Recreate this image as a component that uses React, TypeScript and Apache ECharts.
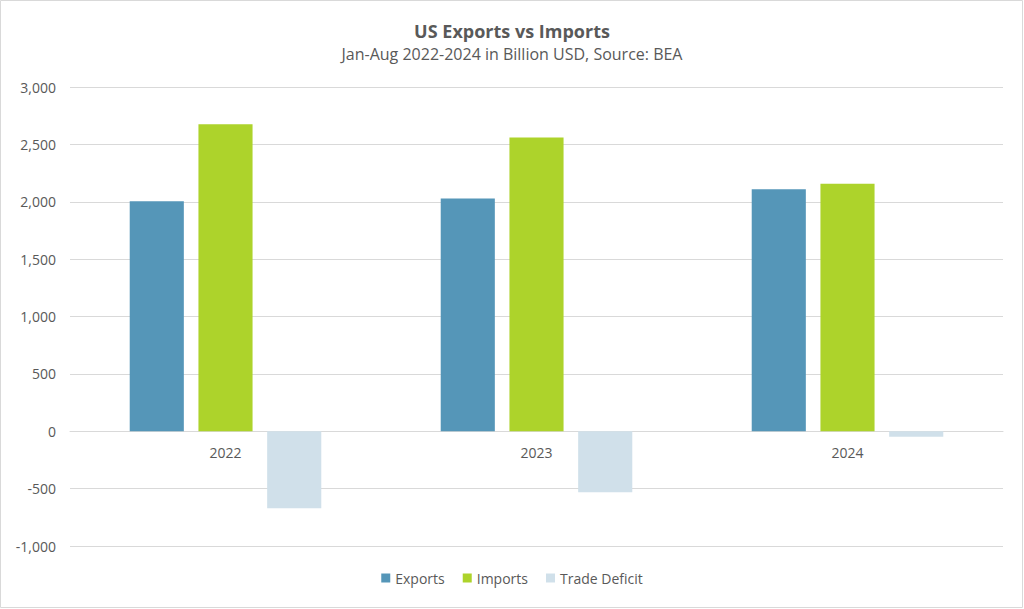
import React, { useEffect, useRef } from "react";
import * as echarts from "echarts";

const categories = ["2022", "2023", "2024"];
const exportsData = [2004, 2028, 2109];
const importsData = [2675, 2559, 2156];
const deficitData = [-671, -531, -47];
const seriesNames = ["Exports", "Imports", "Trade Deficit"];

export default function App() {
  const ref = useRef<HTMLDivElement>(null);
  useEffect(() => {
    document.body.style.margin = "0";
    const chart = echarts.init(ref.current!, undefined, { renderer: "svg" });
    const font = "'Open Sans', Lato, sans-serif";
    chart.setOption({
      animation: false,
      backgroundColor: "#ffffff",
      title: {
        text: "US Exports vs Imports",
        subtext: "Jan-Aug 2022-2024 in Billion USD, Source: BEA",
        left: "center",
        top: 17,
        itemGap: 6,
        textStyle: { fontFamily: font, fontSize: 18, fontWeight: "bold", color: "#595959" },
        subtextStyle: { fontFamily: font, fontSize: 16, color: "#595959" },
      },
      graphic: [
        {
          type: "rect",
          shape: { x: 0.5, y: 0.5, width: 1022, height: 607 },
          style: { fill: "none", stroke: "#d9d9d9", lineWidth: 1 },
          silent: true,
        },
      ],
      legend: {
        bottom: 19,
        left: "center",
        itemWidth: 9,
        itemHeight: 9,
        itemGap: 18,
        icon: "rect",
        textStyle: { fontFamily: font, fontSize: 14, color: "#595959" },
        data: seriesNames,
      },
      grid: { left: 70, right: 21, top: 87, bottom: 63, containLabel: false },
      xAxis: {
        type: "category",
        data: categories,
        offset: -115,
        axisLine: { onZero: false, lineStyle: { color: "#d9d9d9" } },
        axisTick: { show: false },
        axisLabel: { fontFamily: font, fontSize: 14, color: "#595959", margin: 14 },
      },
      yAxis: {
        type: "value",
        min: -1000,
        max: 3000,
        interval: 500,
        axisLine: { show: false },
        axisTick: { show: false },
        splitLine: { lineStyle: { color: "#d9d9d9" } },
        axisLabel: {
          fontFamily: font,
          fontSize: 14,
          color: "#595959",
          margin: 14,
          formatter: (v: number) => v.toLocaleString("en-US"),
        },
      },
      series: [
        { name: seriesNames[0], type: "bar", data: exportsData, barWidth: "17.4%", barGap: "27%", itemStyle: { color: "#5596B8" } },
        { name: seriesNames[1], type: "bar", data: importsData, barWidth: "17.4%", barGap: "27%", itemStyle: { color: "#ADD32B" } },
        { name: seriesNames[2], type: "bar", data: deficitData, barWidth: "17.4%", barGap: "27%", itemStyle: { color: "#D0E0EA" } },
      ],
    });
    return () => chart.dispose();
  }, []);
  return <div ref={ref} style={{ width: 1024, height: 609 }} />;
}
